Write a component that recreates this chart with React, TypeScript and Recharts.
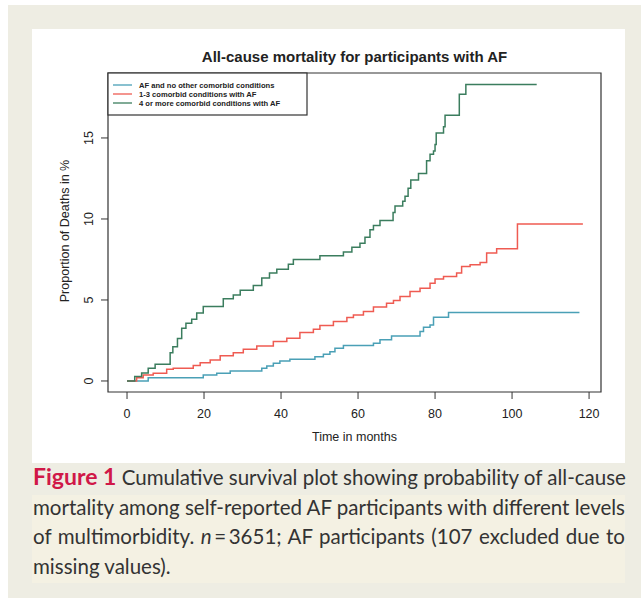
import { LineChart, Line, XAxis, YAxis, ReferenceArea } from "recharts";

// Kaplan-Meier style cumulative deaths (%), months vs percent
const noComorbidMonths = [0, 5.5, 19.8, 23.3, 26.8, 35, 36.3, 38, 39.7, 42.3, 48.8, 51, 52.7, 54, 56.2, 64, 65.7, 68.7, 76.1, 77, 78.7, 79.6, 83.5, 117.5];
const noComorbidDeaths = [0, 0.2, 0.37, 0.47, 0.62, 0.78, 0.93, 1.09, 1.24, 1.34, 1.5, 1.65, 1.81, 2.02, 2.19, 2.33, 2.54, 2.78, 3.05, 3.32, 3.46, 3.94, 4.23, 4.23];

const oneToThreeMonths = [0, 2.5, 4.2, 6.8, 10.3, 12, 17.2, 19, 21.6, 24.2, 27.6, 30.2, 33.7, 38, 41.5, 44.9, 48.4, 50.1, 53.6, 57.1, 58.8, 61.4, 64, 67.4, 69.2, 70.9, 73.5, 76.1, 78.7, 80, 82.2, 85.6, 86.9, 89.1, 91.7, 93.4, 96, 101.4, 118.4];
const oneToThreeDeaths = [0, 0.2, 0.37, 0.47, 0.72, 0.78, 0.95, 1.13, 1.3, 1.55, 1.75, 1.96, 2.16, 2.43, 2.64, 3.0, 3.2, 3.42, 3.67, 3.92, 4.08, 4.29, 4.56, 4.8, 4.97, 5.22, 5.53, 5.73, 6.04, 6.29, 6.45, 6.66, 7.07, 7.18, 7.32, 7.9, 8.16, 9.69, 9.69];

const fourPlusMonths = [0, 2, 3.8, 5.5, 7.3, 11.2, 11.9, 13.1, 14.2, 15.3, 16.8, 18.1, 19.8, 25, 27.6, 29.4, 32.8, 35, 37, 38.9, 41.9, 43.2, 50.1, 56.2, 58.4, 60.5, 61.8, 63.1, 64, 65.7, 69.1, 69.6, 71.6, 72.2, 73, 73.7, 75.7, 77.8, 78.7, 79.6, 80, 80.3, 82.2, 82.6, 86.3, 88, 106.4];
const fourPlusDeaths = [0, 0.27, 0.5, 0.78, 1.03, 1.75, 2.12, 2.62, 3.26, 3.57, 3.81, 4.19, 4.6, 5.07, 5.3, 5.6, 5.9, 6.35, 6.66, 6.9, 7.2, 7.5, 7.73, 7.96, 8.25, 8.5, 8.87, 9.34, 9.6, 9.9, 10.4, 10.8, 11.1, 11.4, 11.9, 12.4, 12.8, 13.6, 14.0, 14.2, 14.6, 15.3, 15.7, 16.4, 17.7, 18.3, 18.3];

const xTicks = [0, 20, 40, 60, 80, 100, 120];
const yTicks = [0, 5, 10, 15];

const SERIES = [
  { name: "AF and no other comorbid conditions", color: "#4aa0b6", months: noComorbidMonths, deaths: noComorbidDeaths },
  { name: "1-3 comorbid conditions with AF", color: "#ef5b52", months: oneToThreeMonths, deaths: oneToThreeDeaths },
  { name: "4 or more comorbid conditions with AF", color: "#3b7d5e", months: fourPlusMonths, deaths: fourPlusDeaths },
];

const X_DOMAIN: [number, number] = [-4.94, 123.1];
const Y_DOMAIN: [number, number] = [-0.68, 19.01];
const CHART_FONT = "'Liberation Sans', Arial, sans-serif";

function YTick({ y, payload }: any) {
  return (
    <text x={93} y={y} transform={`rotate(-90, 93, ${y})`} textAnchor="middle" fontSize={12.5} fill="#222" fontFamily={CHART_FONT}>
      {payload.value}
    </text>
  );
}

function ChartLegend() {
  return (
    <svg width={641} height={130} style={{ position: "absolute", left: 0, top: 0, pointerEvents: "none" }}>
      <rect x={108} y={73} width={199} height={42} fill="#fff" stroke="#333" strokeWidth={1.2} />
      {SERIES.map((s, i) => (
        <g key={s.name}>
          <line x1={113} x2={132} y1={85 + i * 9} y2={85 + i * 9} stroke={s.color} strokeWidth={1.3} />
          <text x={139} y={88 + i * 9} fontSize={7.6} fontWeight="bold" fill="#222" fontFamily={CHART_FONT}>
            {s.name}
          </text>
        </g>
      ))}
    </svg>
  );
}

export default function App() {
  return (
    <div style={{ position: "absolute", left: 0, top: 0, width: 641, height: 602, background: "#fff" }}>
      <div style={{ position: "absolute", left: 8, top: 5, width: 633, height: 593, background: "#eeede3" }} />
      <div style={{ position: "absolute", left: 32, top: 29, width: 593, height: 434, background: "#fff" }} />
      <div style={{ position: "absolute", left: 0, top: 0 }}>
        <LineChart width={641} height={470} margin={{ top: 73, right: 40, left: 78, bottom: 48 }}>
          <XAxis
            type="number"
            dataKey="month"
            domain={X_DOMAIN}
            allowDataOverflow
            ticks={xTicks}
            axisLine={false}
            tickLine={{ stroke: "#333" }}
            tickSize={7}
            tickMargin={10}
            height={30}
            tick={{ fontSize: 12.5, fill: "#222", fontFamily: CHART_FONT }}
          />
          <YAxis
            type="number"
            domain={Y_DOMAIN}
            allowDataOverflow
            ticks={yTicks}
            axisLine={false}
            tickLine={{ stroke: "#333" }}
            tickSize={7}
            width={30}
            tick={<YTick />}
          />
          <ReferenceArea x1={X_DOMAIN[0]} x2={X_DOMAIN[1]} y1={Y_DOMAIN[0]} y2={Y_DOMAIN[1]} fill="none" stroke="#333" strokeWidth={1.2} />
          {SERIES.map((s) => (
            <Line
              key={s.name}
              data={s.months.map((m, i) => ({ month: m, deaths: s.deaths[i] }))}
              dataKey="deaths"
              type="stepAfter"
              stroke={s.color}
              strokeWidth={1.5}
              dot={false}
              isAnimationActive={false}
            />
          ))}
        </LineChart>
      </div>
      <ChartLegend />
      <div style={{ position: "absolute", left: 108, width: 493, top: 48, textAlign: "center", fontFamily: CHART_FONT, fontWeight: "bold", fontSize: 15, color: "#222" }}>
        All-cause mortality for participants with AF
      </div>
      <div style={{ position: "absolute", left: 108, width: 493, top: 430, textAlign: "center", fontFamily: CHART_FONT, fontSize: 12.5, color: "#222" }}>
        Time in months
      </div>
      <div
        style={{
          position: "absolute",
          left: 65,
          top: 231,
          transform: "translate(-50%, -50%) rotate(-90deg)",
          whiteSpace: "nowrap",
          fontFamily: CHART_FONT,
          fontSize: 12.5,
          color: "#222",
        }}
      >
        Proportion of Deaths in %
      </div>
      <div style={{ position: "absolute", left: 32, top: 495, width: 593, height: 88, background: "#f4f1e3" }} />
      <div style={{ position: "absolute", left: 33, top: 462, width: 592, fontFamily: "Lato, 'Open Sans', sans-serif", fontSize: 20.5, lineHeight: "29.5px", color: "#333" }}>
        <div style={{ textAlignLast: "justify", whiteSpace: "nowrap" }}>
          <span style={{ color: "#d01848", fontWeight: "bold", fontSize: 23 }}>Figure 1</span> Cumulative survival plot showing probability of all-cause
        </div>
        <div style={{ textAlignLast: "justify", whiteSpace: "nowrap" }}>mortality among self-reported AF participants with different levels</div>
        <div style={{ textAlignLast: "justify", whiteSpace: "nowrap" }}>
          of multimorbidity. <i>n</i>{"\u2009=\u2009"}3651; AF participants (107 excluded due to
        </div>
        <div>missing values).</div>
      </div>
    </div>
  );
}
